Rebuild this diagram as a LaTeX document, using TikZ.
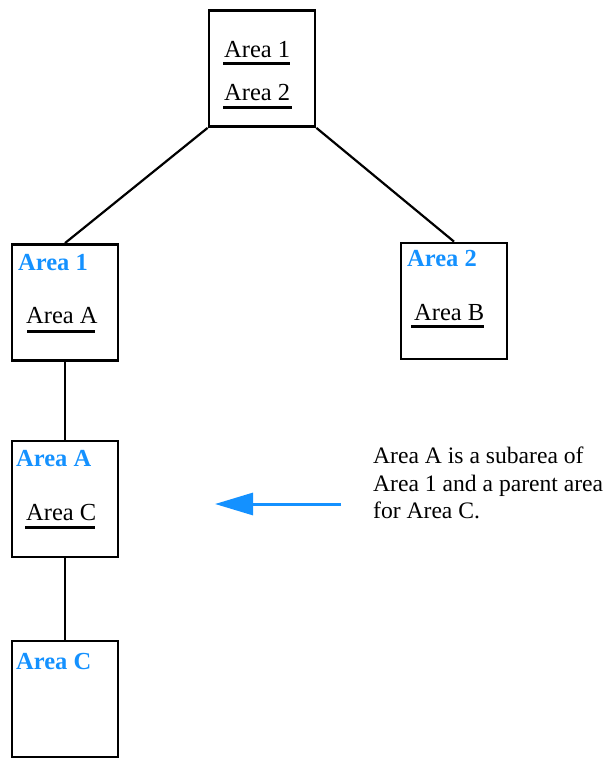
\documentclass[tikz,border=0pt]{standalone}
\usepackage{fontspec}
\setmainfont{Liberation Serif}
\usetikzlibrary{arrows.meta}
\definecolor{areablue}{RGB}{20,145,255}
\begin{document}
\begin{tikzpicture}[x=1pt,y=-1pt,
  areabox/.style={draw=black,line width=2.8pt,minimum width=106pt,minimum height=116pt,inner sep=0pt},
  conn/.style={line width=2.2pt},
  lbl/.style={anchor=base west,inner sep=0pt,font=\fontsize{24.5}{27}\selectfont},
  ttl/.style={lbl,text=areablue,font=\fontsize{24.5}{27}\selectfont\bfseries},
  uline/.style={line width=3pt}]
\useasboundingbox (0,0) rectangle (603,760);
% boxes
\node[areabox] (top) at (262,68.5) {};
\node[areabox] (a1) at (65,302.5) {};
\node[areabox] (a2) at (454,301) {};
\node[areabox] (aa) at (65,499) {};
\node[areabox] (ac) at (65,699) {};
% connectors
\draw[conn] (top.south west) -- (a1.north);
\draw[conn] (top.south east) -- (a2.north);
\draw[conn] (a1.south) -- (aa.north);
\draw[conn] (aa.south) -- (ac.north);
% top box texts
\node[lbl] (t1) at (224,57.5) {Area 1};
\node[lbl] (t2) at (224,100) {Area 2};
\draw[uline] (223,63.5) -- (290,63.5);
\draw[uline] (223,107.5) -- (292,107.5);
% area 1
\node[ttl] (a1t) at (18,270) {Area 1};
\node[lbl] (a1s) at (26,323) {Area A};
\draw[uline] (27,331) -- (95,331);
% area 2
\node[ttl] (a2t) at (407,266) {Area 2};
\node[lbl] (a2s) at (414,320) {Area B};
\draw[uline] (411,326.5) -- (484,326.5);
% area A
\node[ttl] (aat) at (16,466) {Area A};
\node[lbl] (aas) at (26,520) {Area C};
\draw[uline] (25,527) -- (95,527);
% area C
\node[ttl] (act) at (16,669) {Area C};
% explanation
\node[lbl,align=left,anchor=north west,font=\fontsize{23.6}{27.3}\selectfont] (expl) at (373,447) {Area A is a subarea of\\Area 1 and a parent area\\for Area C.};
\coordinate (arrS) at (341,504);
\coordinate (arrE) at (215,504);
\draw[areablue,line width=3pt,-{Triangle[length=38pt,width=22pt]}] (arrS) -- (arrE);
\end{tikzpicture}
\end{document}
